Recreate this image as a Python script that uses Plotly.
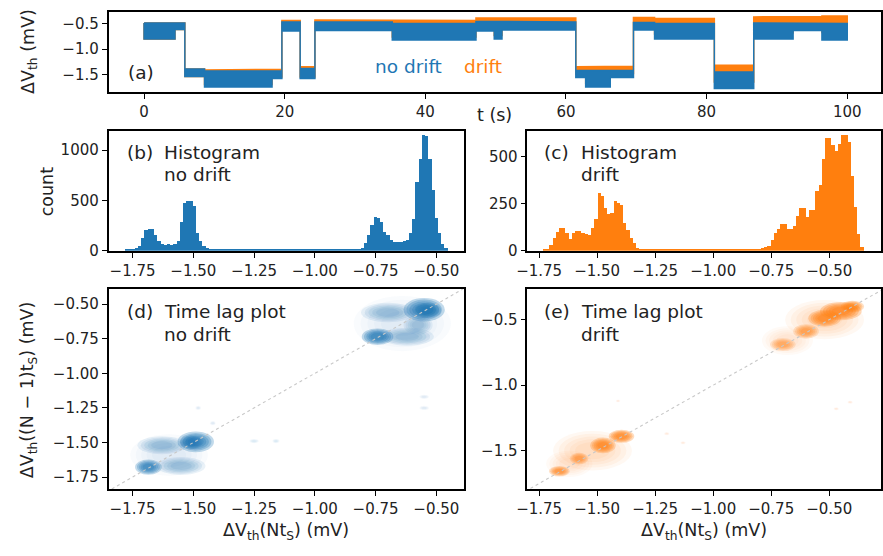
import plotly.graph_objects as go

W, H = 883, 556
BLUE = "#1f77b4"
ORANGE = "#ff7f0e"
BLUE_RGB = "31,119,180"
ORANGE_RGB = "255,127,14"
FONT = "DejaVu Sans"

# ---------------- data ----------------
# (a) time trace: switching times (s) and min/max of the noisy band for each level (mV)
seg_t = [0, 4.4, 5.8, 8.6, 18.2, 19.6, 22.2, 24.3, 35.3, 47.2, 49.8, 50.9,
         61.4, 62.8, 66.3, 69.6, 72.6, 81.1, 86.7, 92.3, 96.4, 100.0]
nodrift_hi = [-0.48, -0.48, -1.39, -1.43, -1.43, -0.46, -1.38, -0.46, -0.49, -0.45, -0.45,
              -0.46, -1.42, -1.42, -1.42, -0.47, -0.49, -1.45, -0.48, -0.48, -0.49]
nodrift_lo = [-0.80, -0.61, -1.54, -1.75, -1.58, -0.64, -1.58, -0.63, -0.82, -0.64, -0.80,
              -0.62, -1.56, -1.75, -1.56, -0.62, -0.80, -1.78, -0.80, -0.63, -0.82]
drift_hi = [-0.48, -0.48, -1.39, -1.41, -1.40, -0.43, -1.35, -0.42, -0.43, -0.38, -0.38,
            -0.38, -1.35, -1.35, -1.34, -0.37, -0.39, -1.32, -0.36, -0.35, -0.34]
drift_lo = [-0.80, -0.61, -1.54, -1.70, -1.55, -0.60, -1.55, -0.59, -0.76, -0.57, -0.73,
            -0.55, -1.49, -1.68, -1.48, -0.52, -0.70, -1.65, -0.68, -0.50, -0.67]

# (b) histogram, no drift: 100 bins
hist_nd_start = -1.783
hist_nd_width = 0.01328
hist_nd_counts = [15, 15, 20, 30, 50, 130, 205, 220, 220, 160,
                  100, 65, 60, 62, 60, 65, 100, 290, 470, 490,
                  490, 440, 180, 100, 50, 25, 15, 12, 12, 12,
                  12, 12, 12, 12, 12, 12, 12, 12, 12, 12,
                  12, 12, 12, 12, 12, 12, 12, 12, 12, 12,
                  12, 12, 12, 12, 12, 12, 12, 12, 12, 12,
                  12, 12, 12, 12, 12, 12, 12, 12, 12, 12,
                  12, 12, 15, 30, 75, 160, 260, 335, 330, 290,
                  185, 160, 110, 88, 88, 88, 95, 107, 172, 316,
                  683, 911, 1149, 1140, 911, 602, 325, 172, 65, 23]

# (c) histogram, drift: 100 bins
hist_dr_start = -1.732
hist_dr_width = 0.01381
hist_dr_counts = [4, 10, 30, 70, 100, 121, 121, 92, 65, 95,
                  106, 106, 97, 90, 85, 120, 171, 308, 290, 230,
                  194, 201, 264, 255, 241, 148, 110, 70, 39, 12,
                  6, 6, 6, 6, 6, 6, 6, 6, 6, 6,
                  6, 6, 6, 6, 6, 6, 6, 6, 6, 6,
                  6, 6, 6, 6, 6, 6, 6, 6, 6, 6,
                  6, 6, 6, 6, 6, 6, 6, 8, 12, 18,
                  25, 56, 92, 118, 144, 144, 118, 118, 130, 183,
                  227, 227, 180, 215, 215, 320, 352, 488, 602, 602,
                  560, 528, 570, 616, 616, 576, 400, 232, 88, 21]

# (d) time-lag clouds, no drift: centre, spread (mV) and relative density of each cloud
lag_nd_x = [-0.55, -0.535, -0.742, -0.70, -0.62, -0.575, -0.64, -1.49, -1.51, -1.685,
            -1.63, -1.55, -1.60, -1.25, -1.16, -0.55, -0.55, -1.48, -1.42]
lag_nd_y = [-0.54, -0.545, -0.735, -0.56, -0.735, -0.65, -0.64, -1.495, -1.50, -1.678,
            -1.52, -1.67, -1.59, -1.49, -1.49, -1.17, -1.25, -1.25, -1.36]
lag_nd_sx = [0.085, 0.055, 0.065, 0.11, 0.11, 0.06, 0.20, 0.075, 0.045, 0.055,
             0.10, 0.10, 0.16, 0.02, 0.015, 0.02, 0.02, 0.012, 0.012]
lag_nd_sy = [0.085, 0.055, 0.06, 0.07, 0.065, 0.07, 0.20, 0.075, 0.05, 0.055,
             0.065, 0.065, 0.15, 0.015, 0.015, 0.015, 0.015, 0.015, 0.015]
lag_nd_w = [1.0, 0.8, 1.0, 0.35, 0.35, 0.3, 0.1, 1.0, 0.7, 0.95,
            0.35, 0.35, 0.1, 0.12, 0.12, 0.1, 0.1, 0.1, 0.1]

# (e) time-lag clouds, drift
lag_dr_x = [-0.45, -0.52, -0.40, -0.60, -0.70, -0.52, -0.68, -1.395, -1.475, -1.578,
            -1.663, -1.52, -1.62, -1.20, -1.13, -0.41, -0.47, -1.41]
lag_dr_y = [-0.435, -0.49, -0.40, -0.59, -0.69, -0.50, -0.66, -1.39, -1.46, -1.56,
            -1.657, -1.50, -1.60, -1.37, -1.44, -1.13, -1.18, -1.12]
lag_dr_sx = [0.09, 0.07, 0.05, 0.055, 0.055, 0.17, 0.11, 0.055, 0.055, 0.04,
             0.045, 0.17, 0.10, 0.012, 0.012, 0.012, 0.012, 0.01]
lag_dr_sy = [0.07, 0.065, 0.045, 0.055, 0.05, 0.15, 0.11, 0.05, 0.06, 0.045,
             0.04, 0.15, 0.10, 0.012, 0.012, 0.012, 0.012, 0.01]
lag_dr_w = [1.0, 0.95, 0.9, 0.7, 0.55, 0.2, 0.15, 1.0, 0.95, 0.6,
            0.8, 0.2, 0.15, 0.1, 0.1, 0.1, 0.1, 0.1]

xticks_a = [0, 20, 40, 60, 80, 100]
yticks_a = [-0.5, -1.0, -1.5]
xticks_hist = [-1.75, -1.5, -1.25, -1.0, -0.75, -0.5]
yticks_b = [0, 500, 1000]
yticks_c = [0, 250, 500]
yticks_d = [-0.5, -0.75, -1.0, -1.25, -1.5, -1.75]
yticks_e = [-0.5, -1.0, -1.5]


# ---------------- helpers ----------------
def band(t, lo, hi):
    xs, ys = [], []
    for i in range(len(hi)):
        xs += [t[i], t[i + 1]]
        ys += [hi[i], hi[i]]
    for i in reversed(range(len(lo))):
        xs += [t[i + 1], t[i]]
        ys += [lo[i], lo[i]]
    xs.append(xs[0])
    ys.append(ys[0])
    return xs, ys


def centers(start, width, n):
    return [start + (i + 0.5) * width for i in range(n)]


LAYERS = (1.0, 0.86, 0.72, 0.58, 0.44)


def clouds(xs, ys, sxs, sys, ws, rgb, xref, yref):
    out = []
    for cx, cy, sx, sy, w in zip(xs, ys, sxs, sys, ws):
        for k in LAYERS:
            out.append(dict(type="circle", xref=xref, yref=yref, layer="below",
                            x0=cx - sx * k, x1=cx + sx * k, y0=cy - sy * k, y1=cy + sy * k,
                            fillcolor=f"rgba({rgb},{0.27 * w:.3f})", line=dict(width=0)))
    return out


def px(x):
    return x / W


def py(y):
    return 1 - y / H


fig = go.Figure()

# (a)
xs, ys = band(seg_t, drift_lo, drift_hi)
fig.add_trace(go.Scatter(x=xs, y=ys, fill="toself", fillcolor=ORANGE, mode="lines",
                         line=dict(color=ORANGE, width=1.5), xaxis="x", yaxis="y",
                         showlegend=False, hoverinfo="skip"))
xs, ys = band(seg_t, nodrift_lo, nodrift_hi)
fig.add_trace(go.Scatter(x=xs, y=ys, fill="toself", fillcolor=BLUE, mode="lines",
                         line=dict(color=BLUE, width=1.5), xaxis="x", yaxis="y",
                         showlegend=False, hoverinfo="skip"))

# (b), (c)
fig.add_trace(go.Bar(x=centers(hist_nd_start, hist_nd_width, len(hist_nd_counts)),
                     y=hist_nd_counts, width=hist_nd_width, marker=dict(color=BLUE, line=dict(width=0)),
                     xaxis="x2", yaxis="y2", showlegend=False))
fig.add_trace(go.Bar(x=centers(hist_dr_start, hist_dr_width, len(hist_dr_counts)),
                     y=hist_dr_counts, width=hist_dr_width, marker=dict(color=ORANGE, line=dict(width=0)),
                     xaxis="x3", yaxis="y3", showlegend=False))

# (d), (e) diagonals
for xa, ya in (("x4", "y4"), ("x5", "y5")):
    fig.add_trace(go.Scatter(x=[-1.9, -0.25], y=[-1.9, -0.25], mode="lines",
                             line=dict(color="#c8c8c8", width=1.1, dash="dot"),
                             xaxis=xa, yaxis=ya, showlegend=False, hoverinfo="skip"))

shapes = clouds(lag_nd_x, lag_nd_y, lag_nd_sx, lag_nd_sy, lag_nd_w, BLUE_RGB, "x4", "y4")
shapes += clouds(lag_dr_x, lag_dr_y, lag_dr_sx, lag_dr_sy, lag_dr_w, ORANGE_RGB, "x5", "y5")

axis_common = dict(showline=True, linecolor="black", linewidth=1.5, mirror=True,
                   ticks="outside", ticklen=5, tickwidth=1.3, tickcolor="black",
                   showgrid=False, zeroline=False, fixedrange=True,
                   tickfont=dict(family=FONT, size=15, color="#222222"))

dom_ax = [px(99), 1.0]
dom_ay = [py(93.3), py(11.7)]
dom_bx = [px(99), px(459.3)]
dom_cx = [px(524), 1.0]
dom_by = [py(255), py(133.3)]
dom_dy = [py(497.3), py(294)]

fig.update_layout(
    width=W, height=H, margin=dict(l=0, r=0, t=0, b=0),
    paper_bgcolor="white", plot_bgcolor="white",
    font=dict(family=FONT, color="#222222"),
    bargap=0, barmode="overlay",
    xaxis=dict(axis_common, domain=dom_ax, range=[-5.05, 104.8], tickvals=xticks_a, anchor="y"),
    yaxis=dict(axis_common, domain=dom_ay, range=[-1.844, -0.253], tickvals=yticks_a,
               tickformat=".1f", anchor="x"),
    xaxis2=dict(axis_common, domain=dom_bx, range=[-1.849, -0.388], tickvals=xticks_hist,
                tickformat=".2f", anchor="y2"),
    yaxis2=dict(axis_common, domain=dom_by, range=[0, 1189], tickvals=yticks_b, anchor="x2"),
    xaxis3=dict(axis_common, domain=dom_cx, range=[-1.801, -0.277], tickvals=xticks_hist,
                tickformat=".2f", anchor="y3"),
    yaxis3=dict(axis_common, domain=dom_by, range=[0, 637], tickvals=yticks_c, anchor="x3"),
    xaxis4=dict(axis_common, domain=dom_bx, range=[-1.849, -0.388], tickvals=xticks_hist,
                tickformat=".2f", anchor="y4"),
    yaxis4=dict(axis_common, domain=dom_dy, range=[-1.838, -0.392], tickvals=yticks_d,
                tickformat=".2f", anchor="x4"),
    xaxis5=dict(axis_common, domain=dom_cx, range=[-1.801, -0.277], tickvals=xticks_hist,
                tickformat=".2f", anchor="y5"),
    yaxis5=dict(axis_common, domain=dom_dy, range=[-1.794, -0.268], tickvals=yticks_e,
                tickformat=".1f", anchor="x5"),
    shapes=shapes,
)


def ann(text, x, y, size=18.5, color="#222222", xanchor="left", angle=0):
    fig.add_annotation(text=text, x=px(x), y=py(y), xref="paper", yref="paper",
                       xanchor=xanchor, yanchor="middle", showarrow=False, textangle=angle,
                       font=dict(family=FONT, size=size, color=color))


ann("(a)", 117, 74)
ann("no drift", 367, 68, color=BLUE)
ann("drift", 458, 68, color=ORANGE)
ann("t (s)", 491, 117, size=17.5, xanchor="center")

ann("(b)", 116, 155)
ann("Histogram", 153, 155)
ann("no drift", 153, 177.5)
ann("(c)", 539, 155)
ann("Histogram", 576, 155)
ann("drift", 576, 177.5)
ann("(d)", 116, 317)
ann("Time lag plot", 153, 317)
ann("no drift", 153, 339.5)
ann("(e)", 539, 317)
ann("Time lag plot", 576, 317)
ann("drift", 576, 339.5)

ann("ΔV<sub>th</sub> (mV)", 18, 52, size=17.5, xanchor="center", angle=-90)
ann("count", 36, 194, size=17.5, xanchor="center", angle=-90)
ann("ΔV<sub>th</sub>((N − 1)t<sub>S</sub>) (mV)", 18, 396, size=17.5, xanchor="center", angle=-90)
ann("ΔV<sub>th</sub>(Nt<sub>S</sub>) (mV)", 279, 540, size=17.5, xanchor="center")
ann("ΔV<sub>th</sub>(Nt<sub>S</sub>) (mV)", 703, 540, size=17.5, xanchor="center")

fig.write_html("out.html")
